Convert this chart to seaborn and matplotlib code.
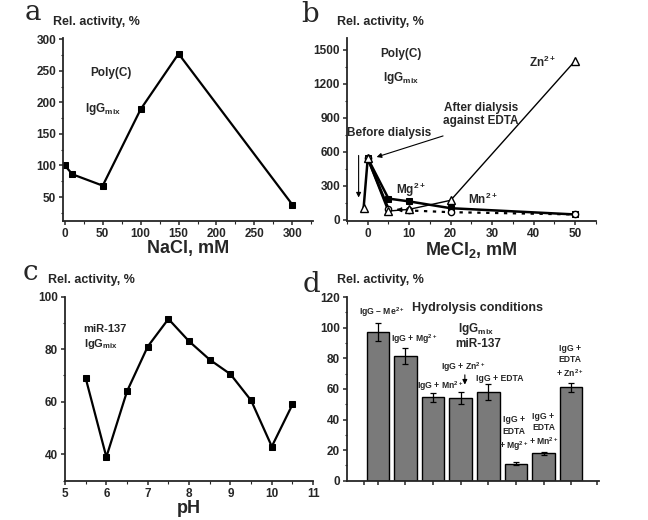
import matplotlib
matplotlib.use("Agg")
import matplotlib.pyplot as plt
import seaborn as sns
import pandas as pd
from matplotlib.ticker import MultipleLocator

sns.set_theme(style="ticks")
plt.rcParams['font.family'] = ['Liberation Sans', 'DejaVu Sans']
plt.rcParams['font.weight'] = 'bold'
plt.rcParams['mathtext.fontset'] = 'custom'
plt.rcParams['mathtext.rm'] = 'Liberation Sans:bold'
plt.rcParams['mathtext.it'] = 'Liberation Sans:bold'
plt.rcParams['mathtext.bf'] = 'Liberation Sans:bold'
plt.rcParams['mathtext.default'] = 'rm'

# panel a: NaCl
nacl_mm = [0, 10, 50, 100, 150, 300]
nacl_act = [100, 86, 68, 189, 277, 38]

# panel b: MeCl2
zn_mm = [-1, 0, 5, 10, 20, 50]
zn_act = [100, 540, 75, 90, 170, 1400]
mg_mm = [0, 5, 10, 20, 50]
mg_act = [540, 185, 160, 100, 45]
mn_mm = [0, 5, 10, 20, 50]
mn_act = [540, 95, 80, 65, 45]

# panel c: pH
ph = [5.5, 6.0, 6.5, 7.0, 7.5, 8.0, 8.5, 9.0, 9.5, 10.0, 10.5]
ph_act = [69, 39, 64, 81, 91.5, 83, 76, 70.5, 60.5, 43, 59]

# panel d: conditions
cond = ["IgG - Me", "IgG + Mg", "IgG + Mn", "IgG + Zn", "IgG + EDTA",
        "EDTA + Mg", "EDTA + Mn", "EDTA + Zn"]
cond_act = [97, 81.5, 54.5, 54, 58, 11, 18, 61]
cond_err = [6, 5, 3, 4, 5, 1, 1, 3]
cond_lbl = [r"IgG – Me$^{2+}$", r"IgG + Mg$^{2+}$", r"IgG + Mn$^{2+}$",
            r"IgG + Zn$^{2+}$", "IgG + EDTA",
            "IgG +\nEDTA\n" + r"+ Mg$^{2+}$", "IgG +\nEDTA\n" + r"+ Mn$^{2+}$",
            "IgG +\nEDTA\n" + r"+ Zn$^{2+}$"]

fig = plt.figure(figsize=(6.48, 5.2), dpi=100)
ax_a = fig.add_axes([0.0977, 0.575, 0.385, 0.352])
ax_b = fig.add_axes([0.5355, 0.5756, 0.384, 0.351])
ax_c = fig.add_axes([0.1003, 0.0756, 0.383, 0.354])
ax_d = fig.add_axes([0.535, 0.0756, 0.389, 0.353])

lab = dict(fontsize=13, fontweight='bold', labelpad=0)
rel = dict(fontsize=9, fontweight='bold')
letter = dict(fontsize=20, family='DejaVu Serif', fontweight='normal')
txt = dict(fontsize=8.5, ha='center', va='center')

# ---- a
sns.lineplot(x=nacl_mm, y=nacl_act, ax=ax_a, color='black', lw=1.6,
             marker='s', markersize=4, markeredgecolor='black')
ax_a.set_xlim(-2, 327)
ax_a.set_ylim(12, 302)
ax_a.set_xticks([0, 50, 100, 150, 200, 250, 300])
ax_a.set_yticks([50, 100, 150, 200, 250, 300])
ax_a.xaxis.set_minor_locator(MultipleLocator(25))
ax_a.yaxis.set_minor_locator(MultipleLocator(25))
ax_a.set_xlabel("NaCl, mM", **lab)
ax_a.text(61, 246, "Poly(C)", **txt)
ax_a.text(50, 189, r"IgG$_{\rm mix}$", **txt)

# ---- b
sns.lineplot(x=zn_mm[:3], y=zn_act[:3], ax=ax_b, color='black', lw=1.8, sort=False)
sns.lineplot(x=zn_mm[2:], y=zn_act[2:], ax=ax_b, color='black', lw=1.0, sort=False)
sns.lineplot(x=mg_mm, y=mg_act, ax=ax_b, color='black', lw=1.8, sort=False,
             marker='s', markersize=4, markeredgecolor='black')
sns.lineplot(x=mn_mm[:2], y=mn_act[:2], ax=ax_b, color='black', lw=1.8, sort=False)
sns.lineplot(x=mn_mm[1:], y=mn_act[1:], ax=ax_b, color='black', lw=1.6, sort=False,
             linestyle=(0, (1.5, 2.5)))
ax_b.plot(mn_mm, mn_act, 'o', mfc='white', mec='black', ms=4.5, mew=1)
ax_b.plot(zn_mm, zn_act, '^', mfc='white', mec='black', ms=5.5, mew=1)
ax_b.set_xlim(-5, 55)
ax_b.set_ylim(-10, 1600)
ax_b.set_xticks([0, 10, 20, 30, 40, 50])
ax_b.set_yticks([0, 300, 600, 900, 1200, 1500])
ax_b.xaxis.set_minor_locator(MultipleLocator(5))
ax_b.yaxis.set_minor_locator(MultipleLocator(150))
ax_b.set_xlabel(r"MeCl$_2$, mM", **lab)
ax_b.text(7.9, 1462, "Poly(C)", **txt)
ax_b.text(7.9, 1252, r"IgG$_{\rm mix}$", **txt)
ax_b.text(42.2, 1389, r"Zn$^{2+}$", **txt)
ax_b.text(27.3, 930, "After dialysis\nagainst EDTA", linespacing=1.1, **txt)
ax_b.text(5.1, 766, "Before dialysis", **txt)
ax_b.text(10.5, 263, r"Mg$^{2+}$", **txt)
ax_b.text(27.7, 175, r"Mn$^{2+}$", **txt)
arr = dict(arrowstyle='-|>', color='black', lw=0.8, mutation_scale=7)
ax_b.annotate("", xy=(-2.2, 170), xytext=(-2.2, 590), arrowprops=arr)
ax_b.annotate("", xy=(1.5, 544), xytext=(18.8, 745), arrowprops=arr)
ax_b.annotate("", xy=(6.3, 84), xytext=(9.2, 88), arrowprops=arr)

# ---- c
sns.lineplot(x=ph, y=ph_act, ax=ax_c, color='black', lw=1.6,
             marker='s', markersize=4, markeredgecolor='black')
ax_c.set_xlim(5, 11)
ax_c.set_ylim(30, 100)
ax_c.set_xticks([5, 6, 7, 8, 9, 10, 11])
ax_c.set_yticks([40, 60, 80, 100])
ax_c.xaxis.set_minor_locator(MultipleLocator(0.5))
ax_c.yaxis.set_minor_locator(MultipleLocator(10))
ax_c.set_xlabel("pH", **lab)
ax_c.text(5.45, 87.6, "miR-137", fontsize=8, ha='left', va='center')
ax_c.text(5.45, 82.0, r"IgG$_{\rm mix}$", fontsize=8, ha='left', va='center')

# ---- d
df_d = pd.DataFrame({"cond": cond, "act": cond_act})
sns.barplot(data=df_d, x="cond", y="act", ax=ax_d, color='#7a7a7a', saturation=1,
            width=0.82, edgecolor='black', linewidth=1.0, errorbar=None)
ax_d.errorbar(range(len(cond)), cond_act, yerr=cond_err, fmt='none',
              ecolor='black', elinewidth=0.9, capsize=2.5, capthick=0.9)
ax_d.set_xlim(-1.13, 8.0)
ax_d.set_ylim(0, 120)
ax_d.set_xticks([-0.5] + list(range(8)) + [7.95])
ax_d.set_xticklabels([])
ax_d.set_yticks([0, 20, 40, 60, 80, 100, 120])
ax_d.yaxis.set_minor_locator(MultipleLocator(10))
ax_d.set_xlabel("")
ax_d.set_ylabel("")
lbl_x = [0.15, 1.33, 2.26, 3.1, 4.43, 4.93, 6.0, 6.96]
lbl_y = [110, 92.5, 61.5, 74.2, 67, 30.5, 33.6, 78]
for x, y, s in zip(lbl_x, lbl_y, cond_lbl):
    ax_d.text(x, y, s, fontsize=6.2, ha='center', va='center', linespacing=1.35)
ax_d.annotate("", xy=(3.15, 61), xytext=(3.15, 71), arrowprops=arr)
ax_d.text(3.6, 113, "Hydrolysis conditions", fontsize=9, ha='center', va='center')
ax_d.text(3.55, 99, r"IgG$_{\rm mix}$", fontsize=8.5, ha='center', va='center')
ax_d.text(3.65, 89.5, "miR-137", fontsize=8.5, ha='center', va='center')

for ax in (ax_a, ax_b, ax_c, ax_d):
    sns.despine(ax=ax)
    ax.spines['left'].set_linewidth(1.3)
    ax.spines['bottom'].set_linewidth(1.3)
    ax.tick_params(direction='out', length=3, width=1.1, labelsize=8.5, pad=2)
    ax.tick_params(which='minor', direction='out', length=1.8, width=0.8)
    ax.set_ylabel("")
    for t in ax.get_xticklabels() + ax.get_yticklabels():
        t.set_fontweight('bold')

# y-axis titles above axes and panel letters
fig.text(96.7 / 648, 1 - 21.7 / 520, "Rel. activity, %", ha='center', va='center', **rel)
fig.text(380.7 / 648, 1 - 21.7 / 520, "Rel. activity, %", ha='center', va='center', **rel)
fig.text(91.7 / 648, 1 - 280 / 520, "Rel. activity, %", ha='center', va='center', **rel)
fig.text(380 / 648, 1 - 280 / 520, "Rel. activity, %", ha='center', va='center', **rel)
fig.text(33 / 648, 1 - 12 / 520, "a", ha='center', va='center', **letter)
fig.text(310 / 648, 1 - 15 / 520, "b", ha='center', va='center', **letter)
fig.text(30 / 648, 1 - 273 / 520, "c", ha='center', va='center', **letter)
fig.text(312 / 648, 1 - 285 / 520, "d", ha='center', va='center', **letter)

fig.savefig("out.png", dpi=100)
